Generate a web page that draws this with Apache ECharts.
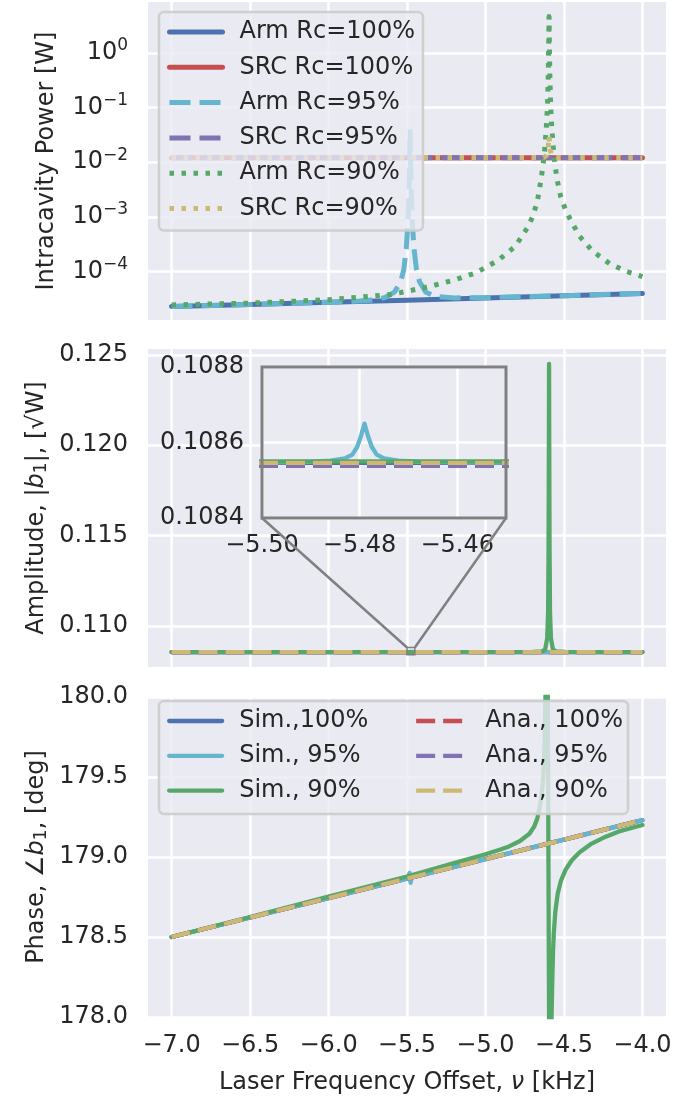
<!DOCTYPE html>
<html>
<head>
<meta charset="utf-8">
<script src="https://cdn.jsdelivr.net/npm/echarts@6/dist/echarts.min.js"></script>
<style>
html, body { margin: 0; padding: 0; background: #fff; }
#chart { width: 677px; height: 1097px; }
</style>
</head>
<body>
<div id="chart"></div>
<script>
// tick values
var freqTicks = [-7.0, -6.5, -6.0, -5.5, -5.0, -4.5, -4.0];
var powerTicks = [1e-4, 1e-3, 1e-2, 1e-1, 1];
var ampTicks = [0.110, 0.115, 0.120, 0.125];
var insetFreqTicks = [-5.50, -5.48, -5.46];

// intracavity power [W]  ([kHz, W])
var armPow100 = [[-7.0, 2.29e-5], [-6.5, 2.5e-5], [-6.0, 2.75e-5], [-5.5, 3.0e-5], [-5.0, 3.3e-5], [-4.5, 3.62e-5], [-4.0, 3.98e-5]];
var srcPow100 = [[-7.0, 1.21e-2], [-4.0, 1.21e-2]];
var armPow95 = [[-7.0, 2.29e-5], [-6.5, 2.5e-5], [-6.0, 2.75e-5], [-5.8, 2.88e-5], [-5.7, 3.05e-5], [-5.64, 3.35e-5],
  [-5.58, 4.2e-5], [-5.54, 6.5e-5], [-5.52, 1.1e-4], [-5.505, 2.6e-4], [-5.495, 7.0e-4], [-5.488, 2.3e-3],
  [-5.484, 8.0e-3], [-5.481, 3.0e-2], [-5.48, 4.0e-2], [-5.479, 3.0e-2], [-5.476, 8.0e-3], [-5.472, 2.3e-3],
  [-5.465, 7.0e-4], [-5.455, 2.6e-4], [-5.44, 1.1e-4], [-5.42, 6.5e-5], [-5.38, 4.2e-5], [-5.32, 3.5e-5],
  [-5.2, 3.3e-5], [-5.0, 3.32e-5], [-4.5, 3.62e-5], [-4.0, 3.98e-5]];
var srcPow95 = [[-7.0, 1.21e-2], [-4.0, 1.21e-2]];
var armPow90 = [[-7.0, 2.45e-5], [-6.5, 2.65e-5], [-6.0, 3.05e-5], [-5.6, 3.8e-5], [-5.36, 5.3e-5], [-5.2, 7.0e-5],
  [-5.06, 9.5e-5], [-4.92, 1.6e-4], [-4.81, 2.9e-4], [-4.73, 6.5e-4], [-4.7, 1.0e-3], [-4.67, 1.9e-3],
  [-4.645, 5.0e-3], [-4.625, 1.4e-2], [-4.612, 4.5e-2], [-4.605, 0.11], [-4.6, 0.4], [-4.597, 1.6],
  [-4.595, 4.6], [-4.593, 1.6], [-4.59, 0.4], [-4.585, 0.11], [-4.578, 4.5e-2], [-4.565, 1.4e-2],
  [-4.545, 5.0e-3], [-4.52, 2.3e-3], [-4.49, 1.35e-3], [-4.46, 9.0e-4], [-4.4, 4.4e-4], [-4.32, 2.4e-4],
  [-4.21, 1.4e-4], [-4.1, 1.0e-4], [-4.0, 8.1e-5]];
var srcPow90 = [[-7.0, 1.21e-2], [-4.63, 1.22e-2], [-4.612, 1.32e-2], [-4.602, 1.7e-2], [-4.595, 3.0e-2],
  [-4.588, 1.7e-2], [-4.578, 1.32e-2], [-4.56, 1.22e-2], [-4.0, 1.21e-2]];

// amplitude |b1| [sqrt(W)]
var ampSim100 = [[-7.0, 0.108546], [-4.0, 0.108546]];
var ampSim95 = [[-7.0, 0.108546], [-5.5, 0.108547], [-5.49, 0.108549], [-5.486, 0.108552], [-5.483, 0.108558],
  [-5.4815, 0.108568], [-5.4805, 0.108588], [-5.4797, 0.108618], [-5.479, 0.10865], [-5.4783, 0.108618],
  [-5.4775, 0.108588], [-5.4765, 0.108568], [-5.475, 0.108558], [-5.472, 0.108552], [-5.468, 0.108549],
  [-5.458, 0.108547], [-4.0, 0.108546]];
var ampSim90 = [[-7.0, 0.108546], [-4.7, 0.108552], [-4.64, 0.10858], [-4.62, 0.10868], [-4.607, 0.1093],
  [-4.601, 0.1108], [-4.598, 0.1145], [-4.596, 0.1205], [-4.595, 0.1245], [-4.594, 0.1205], [-4.592, 0.1145],
  [-4.589, 0.1108], [-4.583, 0.1093], [-4.57, 0.10868], [-4.55, 0.10858], [-4.49, 0.108552], [-4.0, 0.108546]];
var ampAna100 = [[-7.0, 0.108546], [-4.0, 0.108546]];
var ampAna95 = [[-7.0, 0.108538], [-4.0, 0.108538]];
var ampAna90 = [[-7.0, 0.108546], [-4.0, 0.108546]];

// phase angle b1 [deg]
var phSim100 = [[-7.0, 178.5], [-6.0, 178.743], [-5.0, 178.987], [-4.0, 179.23]];
var phSim95 = [[-7.0, 178.5], [-6.0, 178.743], [-5.5, 178.865], [-5.49, 178.868], [-5.483, 178.9], [-5.48, 178.87],
  [-5.477, 178.838], [-5.47, 178.872], [-5.0, 178.987], [-4.0, 179.23]];
var phSim90 = [[-7.0, 178.5], [-6.5, 178.625], [-6.0, 178.752], [-5.5, 178.878], [-5.2, 178.962], [-5.0, 179.017],
  [-4.9, 179.048], [-4.85, 179.066], [-4.78, 179.1], [-4.72, 179.145], [-4.69, 179.19], [-4.67, 179.24],
  [-4.655, 179.31], [-4.645, 179.37], [-4.635, 179.46], [-4.628, 179.58], [-4.622, 179.78], [-4.618, 180.0],
  [-4.613, 180.6], [-4.609, 181.5], [-4.589, 176.5], [-4.583, 177.5], [-4.579, 178.0], [-4.575, 178.2],
  [-4.57, 178.4], [-4.565, 178.52], [-4.555, 178.66], [-4.54, 178.77], [-4.52, 178.85], [-4.49, 178.92],
  [-4.45, 178.98], [-4.4, 179.03], [-4.33, 179.08], [-4.25, 179.12], [-4.15, 179.16], [-4.0, 179.2]];
var phAna100 = [[-7.0, 178.5], [-4.0, 179.23]];
var phAna95 = [[-7.0, 178.5], [-4.0, 179.23]];
var phAna90 = [[-7.0, 178.5], [-4.0, 179.23]];

var FONT = 'DejaVu Sans';
var FS = 24;
var TXT = '#262626';
var BG = '#EAEAF2';
var col = { blue: '#4C72B0', red: '#C44E52', cyan: '#64B5CD', purple: '#8172B2', green: '#55A868', khaki: '#CCB974' };

// layout
var plotLeft = 148, plotWidth = 518;
var inset = { left: 262, top: 367, width: 244, height: 151 };

function minus(s) { return String(s).replace('-', '\u2212'); }

function line(name, data, color, type, width, idx, z) {
  return {
    name: name, type: 'line', data: data, xAxisIndex: idx, yAxisIndex: idx,
    showSymbol: false, symbol: 'none', animation: false, z: z || 2,
    lineStyle: { color: color, width: width, type: type, cap: type === 'solid' ? 'round' : 'butt', join: 'round' },
    itemStyle: { color: color }
  };
}

var dash1 = [21, 9], dot1 = [4.5, 7.5], dash2 = [19, 8];

function xAxis(idx, showLabels) {
  return {
    type: 'value', gridIndex: idx, min: -7.15, max: -3.85,
    axisLine: { show: false }, axisTick: { show: false, customValues: freqTicks },
    axisLabel: { show: showLabels, customValues: freqTicks, margin: 17, fontSize: FS, fontFamily: FONT, color: TXT,
      formatter: function (v) { return minus(v.toFixed(1)); } },
    splitLine: { show: true, lineStyle: { color: '#fff', width: 2.5 } }
  };
}

var nameStyle = {
  fontSize: FS, fontFamily: FONT, color: TXT,
  rich: {
    i: { fontSize: FS, fontFamily: FONT, fontStyle: 'italic', color: TXT },
    sub: { fontSize: 17, fontFamily: FONT, color: TXT, padding: [10, 0, 0, 0] }
  }
};

function legendBase(extra) {
  return Object.assign({
    orient: 'vertical', itemGap: 11.3, itemHeight: 0.1,
    itemStyle: { opacity: 0 },
    textStyle: { fontSize: FS, fontFamily: FONT, color: TXT, padding: [0, 0, 0, 12] }
  }, extra);
}

var option = {
  backgroundColor: '#fff',
  animation: false,
  grid: [
    { left: plotLeft, top: 2, width: plotWidth, height: 318, show: true, backgroundColor: BG, borderWidth: 0, outerBoundsMode: 'none' },
    { left: plotLeft, top: 349, width: plotWidth, height: 318, show: true, backgroundColor: BG, borderWidth: 0, outerBoundsMode: 'none' },
    { left: plotLeft, top: 697, width: plotWidth, height: 320, show: true, backgroundColor: BG, borderWidth: 0, outerBoundsMode: 'none' },
    { left: inset.left, top: inset.top, width: inset.width, height: inset.height, show: false, outerBoundsMode: 'none' }
  ],
  xAxis: [
    xAxis(0, false),
    xAxis(1, false),
    Object.assign(xAxis(2, true), {
      name: 'Laser Frequency Offset, {i|\u03BD} [kHz]', nameLocation: 'middle', nameGap: 54,
      nameMoveOverlap: false, nameTextStyle: nameStyle
    }),
    {
      type: 'value', gridIndex: 3, min: -5.5, max: -5.45, z: 2,
      axisLine: { show: false }, axisTick: { show: false, customValues: insetFreqTicks },
      axisLabel: { customValues: insetFreqTicks, margin: 16, fontSize: FS, fontFamily: FONT, color: TXT,
        formatter: function (v) { return minus(v.toFixed(2)); } },
      splitLine: { show: true, lineStyle: { color: '#fff', width: 2.5 } }
    }
  ],
  yAxis: [
    {
      type: 'log', logBase: 10, gridIndex: 0, min: 1.3e-5, max: 8.5,
      axisLine: { show: false }, axisTick: { show: false, customValues: powerTicks },
      axisLabel: {
        customValues: powerTicks, margin: 20, color: TXT, fontFamily: FONT,
        formatter: function (v) {
          var e = Math.round(Math.log(v) / Math.LN10);
          return '{b|10}{s|' + minus(e) + '}';
        },
        rich: {
          b: { fontSize: FS, fontFamily: FONT, color: TXT },
          s: { fontSize: 17, fontFamily: FONT, color: TXT, padding: [0, 0, 14, 0] }
        }
      },
      splitLine: { show: true, lineStyle: { color: '#fff', width: 2.5 } },
      name: 'Intracavity Power [W]', nameLocation: 'middle', nameGap: 89, nameMoveOverlap: false,
      nameTextStyle: nameStyle
    },
    {
      type: 'value', gridIndex: 1, min: 0.10772, max: 0.12532,
      axisLine: { show: false }, axisTick: { show: false, customValues: ampTicks },
      axisLabel: { customValues: ampTicks, margin: 20, fontSize: FS, fontFamily: FONT, color: TXT,
        formatter: function (v) { return v.toFixed(3); } },
      splitLine: { show: true, lineStyle: { color: '#fff', width: 2.5 } },
      name: 'Amplitude, |{i|b}{sub|1}|, [\u221AW]', nameLocation: 'middle', nameGap: 98, nameMoveOverlap: false,
      nameTextStyle: nameStyle
    },
    {
      type: 'value', gridIndex: 2, min: 178, max: 180, interval: 0.5,
      axisLine: { show: false }, axisTick: { show: false },
      axisLabel: { margin: 20, fontSize: FS, fontFamily: FONT, color: TXT,
        formatter: function (v) { return v.toFixed(1); } },
      splitLine: { show: true, lineStyle: { color: '#fff', width: 2.5 } },
      name: 'Phase, \u2220{i|b}{sub|1}, [deg]', nameLocation: 'middle', nameGap: 98, nameMoveOverlap: false,
      nameTextStyle: nameStyle
    },
    {
      type: 'value', gridIndex: 3, min: 0.1084, max: 0.1088, interval: 0.0002, z: 2,
      axisLine: { show: false }, axisTick: { show: false },
      axisLabel: { margin: 18, fontSize: FS, fontFamily: FONT, color: TXT,
        formatter: function (v) { return v.toFixed(4); } },
      splitLine: { show: true, lineStyle: { color: '#fff', width: 2.5 } }
    }
  ],
  legend: [
    legendBase({
      left: 159, top: 12, padding: [8, 8, 10, 8], itemWidth: 53, lineStyle: { width: 5 },
      backgroundColor: 'rgba(234,234,242,0.8)', borderColor: 'rgba(204,204,204,0.9)', borderWidth: 2.5, borderRadius: 5,
      data: ['Arm Rc=100%', 'SRC Rc=100%', 'Arm Rc=95%', 'SRC Rc=95%', 'Arm Rc=90%', 'SRC Rc=90%']
    }),
    legendBase({
      left: 159, top: 701, padding: [8, 8, 8, 8], itemGap: 10.8, itemWidth: 53, lineStyle: { width: 4.3 },
      data: ['Sim.,100%', 'Sim., 95%', 'Sim., 90%']
    }),
    legendBase({
      left: 406, top: 701, padding: [8, 8, 8, 8], itemGap: 10.8, itemWidth: 50, lineStyle: { width: 4.3 },
      textStyle: { fontSize: FS, fontFamily: FONT, color: TXT, padding: [0, 0, 0, 14] },
      data: ['Ana., 100%', 'Ana., 95%', 'Ana., 90%']
    })
  ],
  graphic: [
    { id: 'legBox3', type: 'rect', z: 3, silent: true,
      shape: { x: 159, y: 701, width: 469, height: 113, r: 5 },
      style: { fill: 'rgba(234,234,242,0.8)', stroke: 'rgba(204,204,204,0.9)', lineWidth: 2.5 } },
    { id: 'insetBg', type: 'rect', z: 1, silent: true,
      shape: { x: inset.left, y: inset.top, width: inset.width, height: inset.height },
      style: { fill: BG } },
    { id: 'insetFrame', type: 'rect', z: 5, silent: true,
      shape: { x: inset.left, y: inset.top, width: inset.width, height: inset.height },
      style: { fill: 'none', stroke: '#808080', lineWidth: 3 } }
  ],
  series: [
    line('Arm Rc=100%', armPow100, col.blue, 'solid', 5, 0),
    line('SRC Rc=100%', srcPow100, col.red, 'solid', 5, 0),
    line('Arm Rc=95%', armPow95, col.cyan, dash1, 5, 0),
    line('SRC Rc=95%', srcPow95, col.purple, dash1, 5, 0),
    line('Arm Rc=90%', armPow90, col.green, dot1, 5, 0),
    line('SRC Rc=90%', srcPow90, col.khaki, dot1, 5, 0),

    line('amp Sim 100', ampSim100, col.blue, 'solid', 4.3, 1),
    line('amp Sim 95', ampSim95, col.cyan, 'solid', 4.3, 1),
    line('amp Sim 90', ampSim90, col.green, 'solid', 4.3, 1),
    line('amp Ana 100', ampAna100, col.red, dash2, 4.3, 1),
    line('amp Ana 95', ampAna95, col.purple, dash2, 4.3, 1),
    line('amp Ana 90', ampAna90, col.khaki, dash2, 4.3, 1),

    line('Sim.,100%', phSim100, col.blue, 'solid', 4.3, 2),
    line('Sim., 95%', phSim95, col.cyan, 'solid', 4.3, 2),
    line('Sim., 90%', phSim90, col.green, 'solid', 4.3, 2),
    line('Ana., 100%', phAna100, col.red, dash2, 4.3, 2),
    line('Ana., 95%', phAna95, col.purple, dash2, 4.3, 2),
    line('Ana., 90%', phAna90, col.khaki, dash2, 4.3, 2),

    line('inset Sim 100', ampSim100, col.blue, 'solid', 4.3, 3, 3),
    line('inset Sim 95', ampSim95, col.cyan, 'solid', 4.3, 3, 3),
    line('inset Sim 90', ampSim90, col.green, 'solid', 4.3, 3, 3),
    line('inset Ana 100', ampAna100, col.red, dash2, 4.3, 3, 3),
    line('inset Ana 95', ampAna95, col.purple, dash2, 4.3, 3, 3),
    line('inset Ana 90', ampAna90, col.khaki, dash2, 4.3, 3, 3)
  ]
};

var chart = echarts.init(document.getElementById('chart'), null, { renderer: 'canvas' });
chart.setOption(option);

// zoom indicator box on the amplitude panel and the two connector lines
var p0 = chart.convertToPixel({ gridIndex: 1 }, [-5.5, 0.1088]);
var p1 = chart.convertToPixel({ gridIndex: 1 }, [-5.45, 0.1084]);
chart.setOption({
  graphic: [
    { id: 'zoomBox', type: 'rect', z: 5, silent: true,
      shape: { x: p0[0], y: p0[1], width: p1[0] - p0[0], height: p1[1] - p0[1] },
      style: { fill: 'none', stroke: '#808080', lineWidth: 1.5 } },
    { id: 'conn1', type: 'line', z: 4, silent: true,
      shape: { x1: inset.left, y1: inset.top + inset.height, x2: p0[0], y2: p0[1] },
      style: { stroke: '#808080', lineWidth: 2.5 } },
    { id: 'conn2', type: 'line', z: 4, silent: true,
      shape: { x1: inset.left + inset.width, y1: inset.top + inset.height, x2: p1[0], y2: p0[1] },
      style: { stroke: '#808080', lineWidth: 2.5 } }
  ]
});
</script>
</body>
</html>
